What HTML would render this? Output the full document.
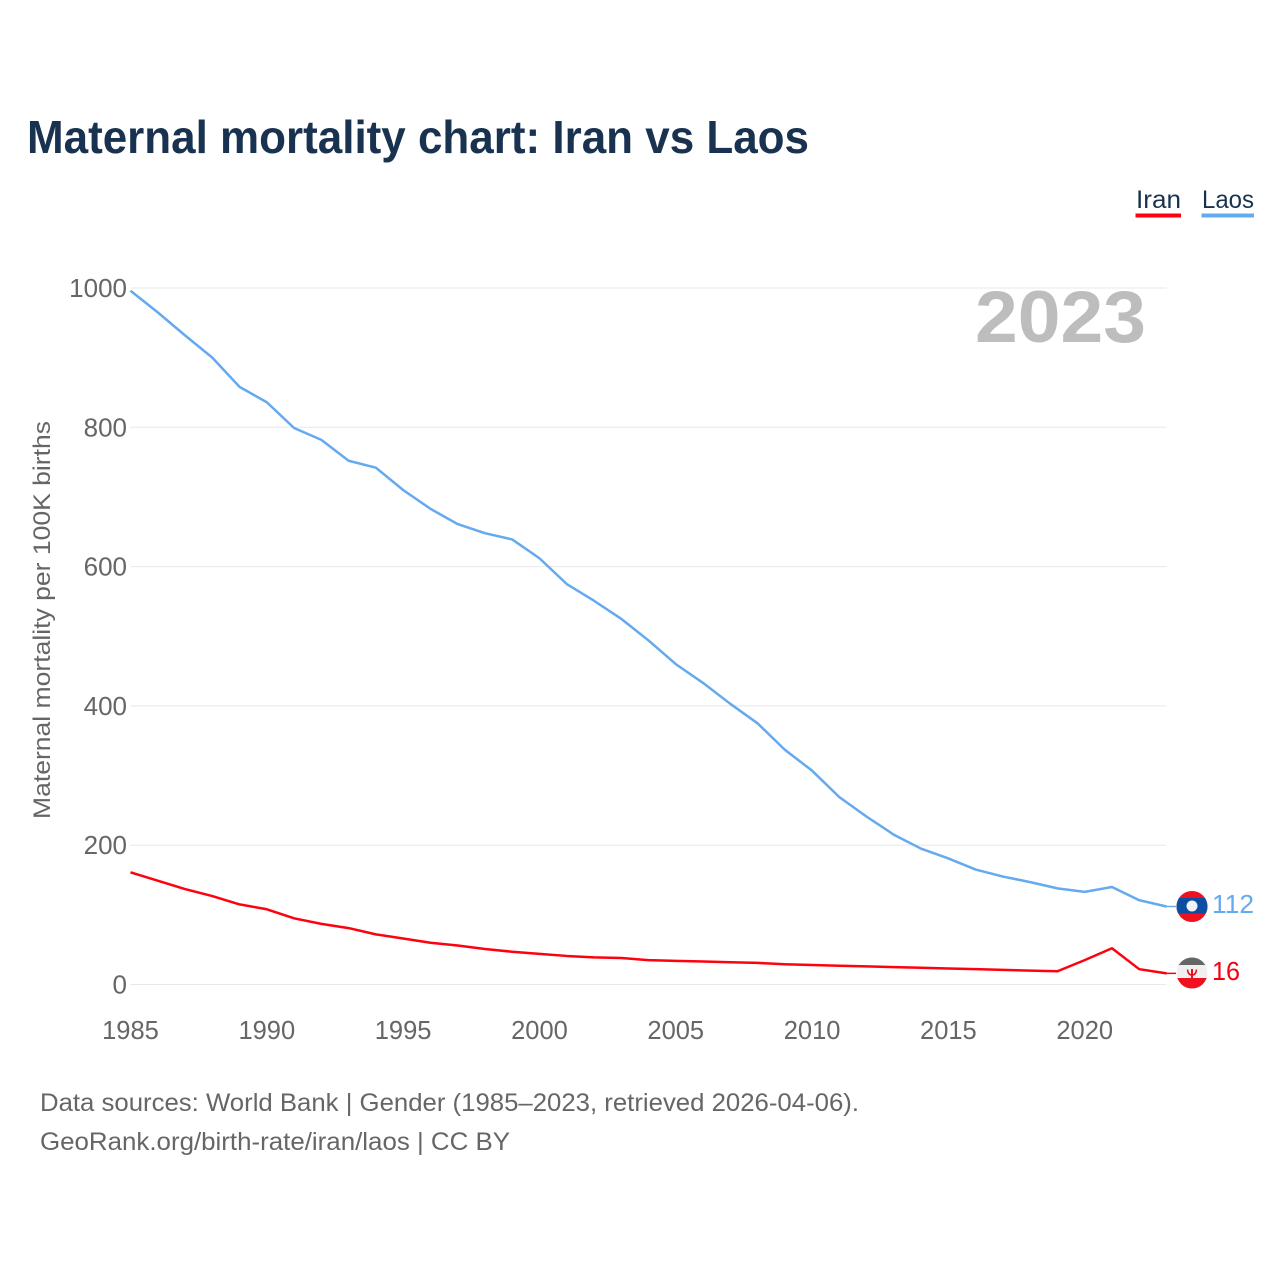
<!DOCTYPE html>
<html lang="en">
<head>
<meta charset="utf-8">
<title>Maternal mortality chart: Iran vs Laos</title>
<style>
html,body{margin:0;padding:0;background:#fff;}
svg{display:block;}
text{font-family:"Liberation Sans",sans-serif;}
</style>
</head>
<body>
<svg id="chart" xmlns="http://www.w3.org/2000/svg" width="1280" height="1280" viewBox="0 0 1280 1280">
  <defs>
    <clipPath id="laos-clip"><circle cx="1192" cy="906.5" r="15.5"/></clipPath>
    <clipPath id="iran-clip"><circle cx="1192" cy="973" r="15.5"/></clipPath>
  </defs>
  <rect width="1280" height="1280" fill="#fff"/>
  <text x="27" y="153" font-size="46" font-weight="700" fill="#18324f" textLength="782" lengthAdjust="spacingAndGlyphs">Maternal mortality chart: Iran vs Laos</text>

  <g>
    <g>
      <text x="1136" y="208" font-size="25" fill="#18324f" textLength="45" lengthAdjust="spacingAndGlyphs">Iran</text>
      <rect x="1135.500" y="213.500" width="45.500" height="4" fill="#ff000f"/>
    </g>
    <g>
      <text x="1202" y="208" font-size="25" fill="#18324f" textLength="52" lengthAdjust="spacingAndGlyphs">Laos</text>
      <rect x="1201.500" y="213.500" width="52.500" height="4" fill="#65a9ef"/>
    </g>
  </g>

  <g id="grid"></g>
  <g id="yticks"></g>
  <g id="xticks"></g>
  <text transform="translate(50,819) rotate(-90)" font-size="24" fill="#666" textLength="398" lengthAdjust="spacingAndGlyphs">Maternal mortality per 100K births</text>
  <text x="975" y="342" font-size="73" font-weight="700" fill="#bdbdbd" textLength="171" lengthAdjust="spacingAndGlyphs">2023</text>

  <g id="series"></g>

  <g clip-path="url(#laos-clip)">
    <rect x="1176" y="890" width="32" height="33" fill="#f01020"/>
    <rect x="1176" y="898" width="32" height="15.500" fill="#0b4ea2"/>
    <circle cx="1192" cy="906" r="5.500" fill="#f2f2f2"/>
  </g>
  <g clip-path="url(#iran-clip)">
    <rect x="1176" y="957" width="32" height="9" fill="#666"/>
    <rect x="1176" y="965" width="32" height="14" fill="#f0f0f0"/>
    <rect x="1176" y="978" width="32" height="11" fill="#f01020"/>
    <rect x="1191" y="969" width="2" height="9" fill="#e8101c"/>
    <path d="M1187.500 969.500 Q1188 975 1192 975 Q1196 975 1196.500 969.500" fill="none" stroke="#e8101c" stroke-width="1.500"/>
  </g>

  <text id="label-laos" x="1212" y="913" font-size="26" fill="#65a9ef" textLength="42" lengthAdjust="spacingAndGlyphs"></text>
  <text id="label-iran" x="1212" y="980" font-size="26" fill="#f5000f" textLength="28" lengthAdjust="spacingAndGlyphs"></text>

  <text x="40" y="1111" font-size="25" fill="#666" textLength="819" lengthAdjust="spacingAndGlyphs">Data sources: World Bank | Gender (1985–2023, retrieved 2026-04-06).</text>
  <text x="40" y="1150" font-size="25" fill="#666" textLength="470" lengthAdjust="spacingAndGlyphs">GeoRank.org/birth-rate/iran/laos | CC BY</text>
</svg>
<script>
const years = [1985,1986,1987,1988,1989,1990,1991,1992,1993,1994,1995,1996,1997,1998,1999,2000,2001,2002,2003,2004,2005,2006,2007,2008,2009,2010,2011,2012,2013,2014,2015,2016,2017,2018,2019,2020,2021,2022,2023];
const laosValues = [996,965,932,900,858,836,799,782,752,742,710,683,661,648,639,612,575,551,525,494,460,433,403,375,337,307,269,241,215,195,181,165,155,147,138,133,140,121,112];
const iranValues = [161,149,137,127,115,108,95,87,81,72,66,60,56,51,47,44,41,39,38,35,34,33,32,31,29,28,27,26,25,24,23,22,21,20,19,35,52,22,16];
const yTickValues = [0,200,400,600,800,1000];
const xTickValues = [1985,1990,1995,2000,2005,2010,2015,2020];

const NS = 'http://www.w3.org/2000/svg';
function xScale(year){ return 130.500 + (year - 1985) * (1166.500 - 130.500) / (2023 - 1985); }
function yScale(value){ return 984.500 - value * (984.500 - 288) / 1000; }

const gridGroup = document.getElementById('grid');
const yGroup = document.getElementById('yticks');
const xGroup = document.getElementById('xticks');
const seriesGroup = document.getElementById('series');

yTickValues.forEach(function(v){
  const line = document.createElementNS(NS,'line');
  
  
  line.setAttribute('x1', xScale(1985));
  line.setAttribute('x2', xScale(2023));
  line.setAttribute('y1', yScale(v));
  line.setAttribute('y2', yScale(v));
  line.setAttribute('stroke', '#e8e8e8');
  line.setAttribute('stroke-width', '1');
  gridGroup.appendChild(line);

  const label = document.createElementNS(NS,'text');
  
  
  label.setAttribute('x', 127);
  label.setAttribute('y', yScale(v) + 9);
  label.setAttribute('text-anchor', 'end');
  label.setAttribute('font-size', '26');
  label.setAttribute('fill', '#666');
  label.textContent = v;
  yGroup.appendChild(label);
});

xTickValues.forEach(function(t){
  const label = document.createElementNS(NS,'text');
  
  
  label.setAttribute('x', xScale(t));
  label.setAttribute('y', 1039);
  label.setAttribute('text-anchor', 'middle');
  label.setAttribute('font-size', '25.500');
  label.setAttribute('fill', '#666');
  label.textContent = t;
  xGroup.appendChild(label);
});

function pathFor(values){
  return values.map(function(v,i){
    return (i ? 'L' : 'M') + xScale(years[i]).toFixed(2) + ' ' + yScale(v).toFixed(2);
  }).join(' ');
}

const laosLine = document.createElementNS(NS,'path');


laosLine.setAttribute('d', pathFor(laosValues));
laosLine.setAttribute('fill', 'none');
laosLine.setAttribute('stroke', '#65a9ef');
laosLine.setAttribute('stroke-width', '2.500');
laosLine.setAttribute('stroke-linejoin', 'round');
seriesGroup.appendChild(laosLine);

const iranLine = document.createElementNS(NS,'path');


iranLine.setAttribute('d', pathFor(iranValues));
iranLine.setAttribute('fill', 'none');
iranLine.setAttribute('stroke', '#ff000f');
iranLine.setAttribute('stroke-width', '2.500');
iranLine.setAttribute('stroke-linejoin', 'round');
seriesGroup.appendChild(iranLine);

const laosConnector = document.createElementNS(NS,'line');


laosConnector.setAttribute('x1', xScale(2023));
laosConnector.setAttribute('x2', 1176);
laosConnector.setAttribute('y1', yScale(laosValues[laosValues.length-1]));
laosConnector.setAttribute('y2', yScale(laosValues[laosValues.length-1]));
laosConnector.setAttribute('stroke', '#65a9ef');
laosConnector.setAttribute('stroke-width', '1.500');
seriesGroup.appendChild(laosConnector);

const iranConnector = document.createElementNS(NS,'line');


iranConnector.setAttribute('x1', xScale(2023));
iranConnector.setAttribute('x2', 1176);
iranConnector.setAttribute('y1', yScale(iranValues[iranValues.length-1]));
iranConnector.setAttribute('y2', yScale(iranValues[iranValues.length-1]));
iranConnector.setAttribute('stroke', '#ff000f');
iranConnector.setAttribute('stroke-width', '1.500');
seriesGroup.appendChild(iranConnector);

document.getElementById('label-laos').textContent = laosValues[laosValues.length-1];
document.getElementById('label-iran').textContent = iranValues[iranValues.length-1];
</script>
</body>
</html>
